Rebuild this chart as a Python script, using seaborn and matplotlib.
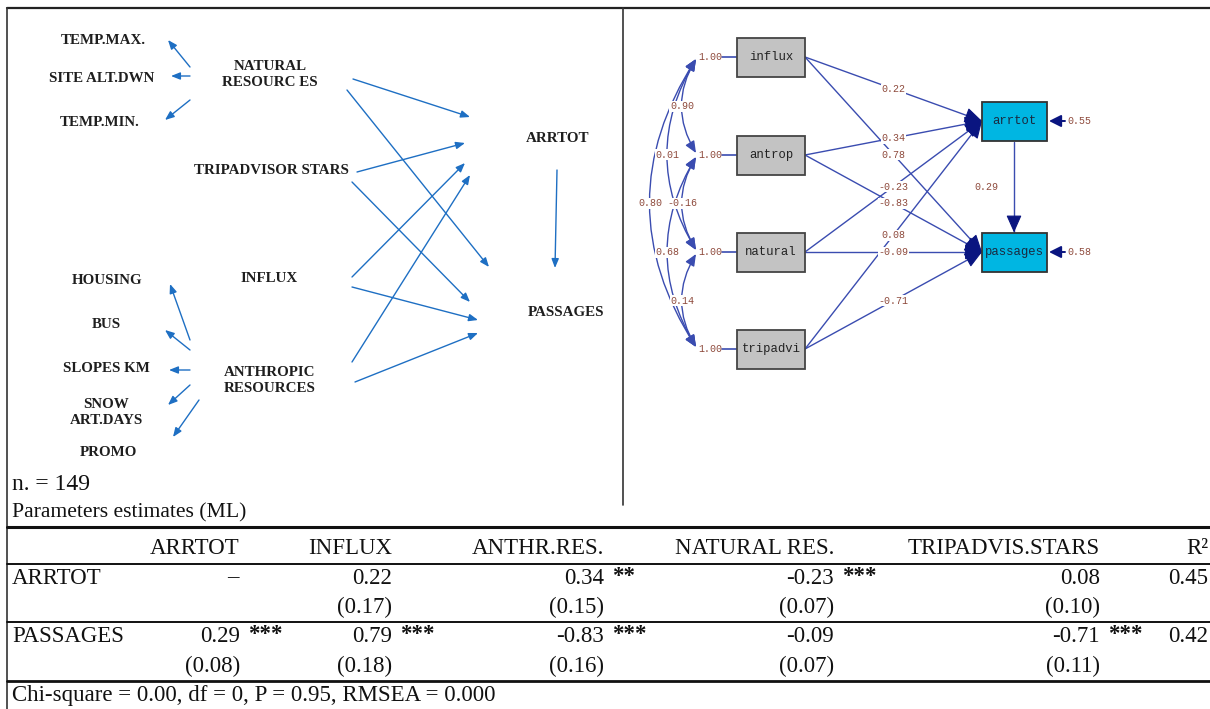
import numpy as np
import matplotlib
matplotlib.use("Agg")
import matplotlib.pyplot as plt
from matplotlib.patches import Rectangle, FancyArrowPatch
import seaborn as sns

sns.set_theme(style="white")
plt.rcParams['font.family'] = ['Liberation Serif', 'DejaVu Sans']

# ---------------- data ----------------
# conceptual model (left panel)
natural_indicators = ["TEMP.MAX.", "SITE ALT.DWN", "TEMP.MIN."]
anthropic_indicators = ["HOUSING", "BUS", "SLOPES KM", "SNOW\nART.DAYS", "PROMO"]
exogenous = ["NATURAL\nRESOURC ES", "TRIPADVISOR STARS", "INFLUX", "ANTHROPIC\nRESOURCES"]
endogenous = ["ARRTOT", "PASSAGES"]
sample_note = "n. = 149"

# LISREL path diagram (right panel)
lisrel_sources = ["influx", "antrop", "natural", "tripadvi"]
lisrel_targets = ["arrtot", "passages"]
source_variances = [1.00, 1.00, 1.00, 1.00]
path_to_arrtot = [0.22, 0.34, -0.23, 0.08]
path_to_passages = [0.78, -0.83, -0.09, -0.71]
path_arrtot_passages = 0.29
error_variances = [0.55, 0.58]
cov_pairs = [(0, 1), (0, 2), (1, 2), (0, 3), (1, 3), (2, 3)]
cov_values = [0.90, 0.01, -0.16, 0.80, 0.68, 0.14]

# parameter table
table_title = "Parameters estimates (ML)"
table_cols = ["ARRTOT", "INFLUX", "ANTHR.RES.", "NATURAL RES.", "TRIPADVIS.STARS"]
table_rows = ["ARRTOT", "PASSAGES"]
arrtot_coef = [None, 0.22, 0.34, -0.23, 0.08]
arrtot_se = [None, 0.17, 0.15, 0.07, 0.10]
arrtot_sig = ["", "", "**", "***", ""]
passages_coef = [0.29, 0.79, -0.83, -0.09, -0.71]
passages_se = [0.08, 0.18, 0.16, 0.07, 0.11]
passages_sig = ["***", "***", "***", "", "***"]
r_squared = [0.45, 0.42]
fit_note = "Chi-square = 0.00, df = 0, P = 0.95, RMSEA = 0.000"

# ---------------- styles / layout ----------------
blue_left = "#1e6fc3"
line_blue = "#3a4cb0"
navy = "#0a1580"
num_col = "#8e4a3c"
gray_box = "#c3c3c3"
cyan_box = "#00b6e2"
ink = "#111111"

fig = plt.figure(figsize=(12.10, 7.09), dpi=100)
ax = fig.add_axes([0, 0, 1, 1])
ax.set_xlim(0, 1210)
ax.set_ylim(709, 0)
ax.axis("off")

# frame
ax.plot([7, 1210], [8, 8], color="#222222", lw=1.6)
ax.plot([7, 7], [8, 709], color="#333333", lw=1.2)
ax.plot([623, 623], [8, 505], color="#333333", lw=1.2)

# ---------- left panel ----------
lab_kw = dict(fontsize=10.8, fontweight="bold", color="#1e1e1e", ha="center", va="center",
              linespacing=1.3)
nat_ind_pos = [(103, 40), (102, 78), (100, 122)]
ant_ind_pos = [(107, 281), (106, 325), (106, 369), (106, 412), (108, 453)]
exo_pos = [(270, 75), (271, 171), (269, 278), (270, 380)]
endo_pos = [(558, 139), (566, 313)]
for t, p in zip(natural_indicators, nat_ind_pos):
    ax.text(*p, t, **lab_kw)
for t, p in zip(anthropic_indicators, ant_ind_pos):
    ax.text(*p, t, **lab_kw)
for t, p in zip(exogenous, exo_pos):
    ax.text(*p, t, **lab_kw)
for t, p in zip(endogenous, endo_pos):
    ax.text(*p, t, **lab_kw)


def left_arrow(p0, p1):
    ax.annotate("", xy=p1, xytext=p0,
                arrowprops=dict(arrowstyle="-|>,head_length=0.45,head_width=0.18",
                                color=blue_left, lw=1.0, shrinkA=0, shrinkB=0))


nat_arrows = [((190, 67), (168, 40)), ((190, 76), (171, 76)), ((190, 100), (165, 120))]
ant_arrows = [((190, 340), (170, 284)), ((190, 350), (165, 330)), ((190, 370), (169, 370)),
              ((190, 385), (168, 405)), ((199, 400), (173, 437))]
struct_arrows = [((353, 79), (470, 117)), ((347, 90), (489, 267)),
                 ((357, 172), (465, 143)), ((352, 182), (470, 302)),
                 ((352, 277), (465, 163)), ((352, 287), (478, 320)),
                 ((352, 362), (470, 175)), ((355, 382), (478, 333)),
                 ((557, 170), (555, 268))]
for a, b in nat_arrows + ant_arrows + struct_arrows:
    left_arrow(a, b)

ax.text(12, 485, sample_note, fontsize=17, ha="left", va="center", color=ink)
ax.text(12, 513, table_title, fontsize=15.6, ha="left", va="center", color=ink)

# ---------- right panel (LISREL) ----------
mono = ["Liberation Mono", "DejaVu Sans Mono"]
src_x0, src_x1 = 737, 805
src_y = [57, 155, 252, 349]
tgt_x0, tgt_x1 = 982, 1047
tgt_y = [121, 252]
bh = 39

num_kw = dict(fontsize=7.2, family=mono, color=num_col, ha="center", va="center",
              bbox=dict(boxstyle="square,pad=0.05", fc="white", ec="none"))


def lisrel_arrow(p0, p1, zorder=2):
    ax.plot([p0[0], p1[0]], [p0[1], p1[1]], color=line_blue, lw=1.0, zorder=zorder)
    d = np.array(p1, float) - np.array(p0, float)
    d /= np.linalg.norm(d)
    start = np.array(p1) - d * 12
    ax.annotate("", xy=p1, xytext=tuple(start),
                arrowprops=dict(arrowstyle="-|>,head_length=0.9,head_width=0.4",
                                color=navy, lw=0.8, shrinkA=0, shrinkB=0), zorder=zorder + 1)


# paths
for i, y in enumerate(src_y):
    for j in range(2):
        lisrel_arrow((src_x1, y), (tgt_x0, tgt_y[j]))
for i, y in enumerate(src_y):
    for j, coef in enumerate([path_to_arrtot[i], path_to_passages[i]]):
        p0 = np.array((src_x1, y), float)
        p1 = np.array((tgt_x0, tgt_y[j]), float)
        m = p0 + 0.5 * (p1 - p0)
        ax.text(m[0], m[1], f"{coef:.2f}", zorder=5, **num_kw)

# arrtot -> passages
lisrel_arrow((1014, tgt_y[0] + bh / 2 + 1), (1014, tgt_y[1] - bh / 2))
ax.text(986, (tgt_y[0] + tgt_y[1]) / 2, f"{path_arrtot_passages:.2f}", zorder=5, **num_kw)

# boxes
for name, y in zip(lisrel_sources, src_y):
    ax.add_patch(Rectangle((src_x0, y - bh / 2), src_x1 - src_x0, bh, fc=gray_box,
                           ec="#444444", lw=1.3, zorder=6))
    ax.text((src_x0 + src_x1) / 2, y, name, family=mono, fontsize=8.8, color="#222222",
            ha="center", va="center", zorder=7)
for name, y in zip(lisrel_targets, tgt_y):
    ax.add_patch(Rectangle((tgt_x0, y - bh / 2), tgt_x1 - tgt_x0, bh, fc=cyan_box,
                           ec="#333333", lw=1.3, zorder=6))
    ax.text((tgt_x0 + tgt_x1) / 2, y, name, family=mono, fontsize=8.8, color="#1a2a40",
            ha="center", va="center", zorder=7)

# variances of sources
for v, y in zip(source_variances, src_y):
    ax.plot([722, src_x0], [y, y], color=line_blue, lw=1.2)
    ax.text(710, y, f"{v:.2f}", fontsize=7.2, family=mono, color=num_col,
            ha="center", va="center")

# error variances
for v, y in zip(error_variances, tgt_y):
    ax.annotate("", xy=(tgt_x1 + 2, y), xytext=(1065, y),
                arrowprops=dict(arrowstyle="-|>,head_length=0.6,head_width=0.3",
                                color=navy, lw=1.4, shrinkA=0, shrinkB=0))
    ax.text(1067, y, f"{v:.2f}", fontsize=7.2, family=mono, color=num_col,
            ha="left", va="center")

# covariances (curved double-headed)
cov_x = 696
rads = {1: 0.30, 2: 0.30, 3: 0.32}
for (i, j), c in zip(cov_pairs, cov_values):
    rad = rads[j - i]
    p0 = (cov_x, src_y[i] + 2)
    p1 = (cov_x, src_y[j] - 2)
    arr = FancyArrowPatch(p0, p1, connectionstyle=f"arc3,rad={rad}",
                          arrowstyle="<|-|>,head_length=7,head_width=3",
                          color=line_blue, lw=1.0, shrinkA=0, shrinkB=0, zorder=3)
    ax.add_patch(arr)
    dy = abs(p1[1] - p0[1])
    mx = cov_x - rad * dy / 2
    my = (p0[1] + p1[1]) / 2
    ax.text(mx, my, f"{c:.2f}", zorder=5, **num_kw)

# ---------- table ----------
col_right = [240, 392, 604, 834, 1100]
r2_right = 1208
tf = 16.5
ax.plot([7, 1210], [527, 527], color=ink, lw=2.2)
ax.plot([7, 1210], [564, 564], color=ink, lw=1.4)
ax.plot([7, 1210], [622, 622], color=ink, lw=1.4)
ax.plot([7, 1210], [681, 681], color=ink, lw=2.0)

hdr_y = 549
for c, xr in zip(table_cols, col_right):
    ax.text(xr, hdr_y, c, fontsize=tf, ha="right", va="center", color=ink)
ax.text(r2_right, hdr_y, "R²", fontsize=tf, ha="right", va="center", color=ink)

rows = [(arrtot_coef, arrtot_se, arrtot_sig), (passages_coef, passages_se, passages_sig)]
row_y = [(578, 607), (637, 666)]
for name, (coefs, ses, sigs), (yc, ys), r2 in zip(table_rows, rows, row_y, r_squared):
    ax.text(12, yc, name, fontsize=tf, ha="left", va="center", color=ink)
    for xr, c, s, g in zip(col_right, coefs, ses, sigs):
        if c is None:
            ax.text(xr - 7, yc, "–", fontsize=tf, ha="center", va="center", color=ink)
            continue
        ax.text(xr, yc, f"{c:.2f}", fontsize=tf, ha="right", va="center", color=ink)
        if g:
            ax.text(xr + 8, yc - 2, g, fontsize=tf, ha="left", va="center", color=ink,
                    fontweight="bold")
        ax.text(xr, ys, f"({s:.2f})", fontsize=tf, ha="right", va="center", color=ink)
    ax.text(r2_right, yc, f"{r2:.2f}", fontsize=tf, ha="right", va="center", color=ink)

ax.text(12, 695, fit_note, fontsize=tf, ha="left", va="center", color=ink)

fig.savefig("out.png", dpi=100, facecolor="white")
